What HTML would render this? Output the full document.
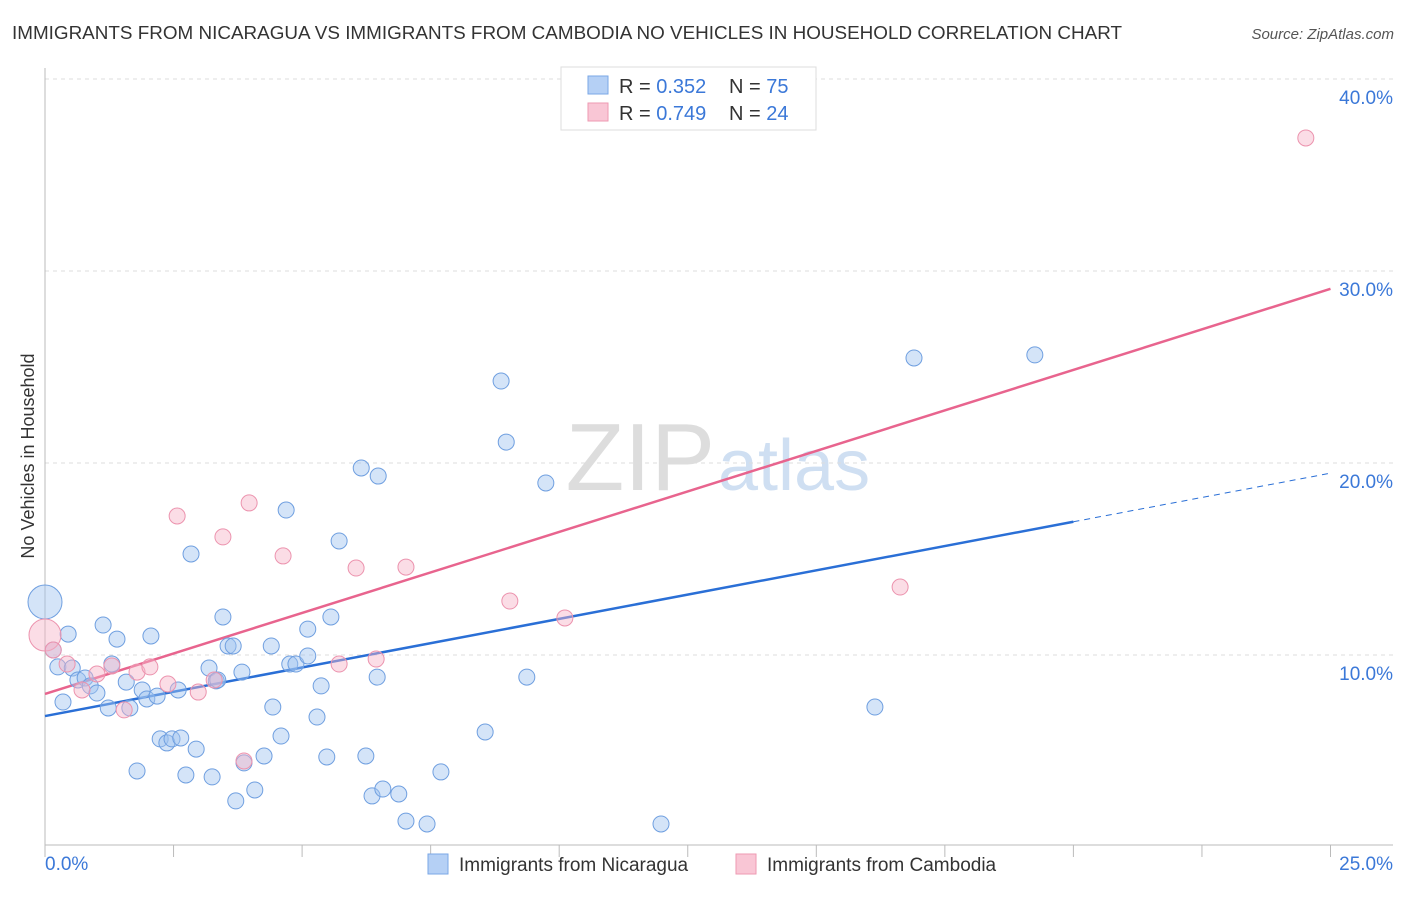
<!DOCTYPE html>
<html><head><meta charset="utf-8"><style>
body{margin:0;background:#fff;font-family:"Liberation Sans",sans-serif}
svg text{font-family:"Liberation Sans",sans-serif}
</style></head><body>
<svg id="chart" width="1406" height="892" xmlns="http://www.w3.org/2000/svg">
<text x="12" y="39" font-size="18" fill="#333" textLength="1110" lengthAdjust="spacingAndGlyphs">IMMIGRANTS FROM NICARAGUA VS IMMIGRANTS FROM CAMBODIA NO VEHICLES IN HOUSEHOLD CORRELATION CHART</text>
<text x="1394" y="39" font-size="15" fill="#555" font-style="italic" text-anchor="end">Source: ZipAtlas.com</text>
<text x="715" y="490" font-size="96" fill="#ddd" text-anchor="end" font-family="Liberation Serif">ZIP</text>
<text x="718" y="490" font-size="72" fill="#cfdff2">atlas</text>
<g id="grid"></g><g id="axes"></g><g id="trends"></g><g id="points"></g>
<text transform="translate(34,456) rotate(-90)" font-size="18" fill="#333" text-anchor="middle">No Vehicles in Household</text>
<g>
<rect x="561" y="67" width="255" height="63" fill="#fff" stroke="#ddd"/>
<rect x="588" y="76" width="20" height="18" fill="#b5d0f5" stroke="#7aa7e6"/>
<text x="619" y="93" font-size="20" fill="#333">R = <tspan fill="#3b78d8">0.352</tspan></text>
<text x="729" y="93" font-size="20" fill="#333">N = <tspan fill="#3b78d8">75</tspan></text>
<rect x="588" y="103" width="20" height="18" fill="#f9c6d5" stroke="#ee9ab2"/>
<text x="619" y="120" font-size="20" fill="#333">R = <tspan fill="#3b78d8">0.749</tspan></text>
<text x="729" y="120" font-size="20" fill="#333">N = <tspan fill="#3b78d8">24</tspan></text>
</g>
<g>
<rect x="428" y="854" width="20" height="20" fill="#b5d0f5" stroke="#7aa7e6"/>
<text x="459" y="871" font-size="19" fill="#333">Immigrants from Nicaragua</text>
<rect x="736" y="854" width="20" height="20" fill="#f9c6d5" stroke="#ee9ab2"/>
<text x="767" y="871" font-size="19" fill="#333">Immigrants from Cambodia</text>
</g>
</svg>
<script>
const yTicks=[10,20,30,40];
const xTickLabels=["0.0%","25.0%"];
const blueX=[0,0.16,0.25,0.45,0.35,0.53,0.64,0.78,0.88,1.01,1.13,1.23,1.30,1.40,1.58,1.65,1.79,1.89,1.98,2.06,2.18,2.24,2.37,2.47,2.59,2.64,2.74,2.84,2.94,3.19,3.25,3.33,3.36,3.46,3.56,3.66,3.71,3.83,3.87,4.08,4.26,4.40,4.43,4.59,4.69,4.76,4.88,5.11,5.11,5.29,5.37,5.48,5.56,5.72,6.15,6.24,6.36,6.46,6.48,6.57,6.88,7.02,7.43,7.70,8.56,8.87,8.97,9.37,9.74,11.98,16.14,16.90,19.25];
const blueY=[12.76,10.26,9.38,11.09,7.55,9.32,8.70,8.80,8.39,8.02,11.56,7.24,9.53,10.83,8.59,7.24,3.96,8.18,7.71,10.99,7.86,5.63,5.42,5.63,8.18,5.68,3.75,15.26,5.10,9.32,3.65,8.65,8.70,11.98,10.47,10.47,2.40,9.11,4.38,2.97,4.74,10.47,7.29,5.78,17.55,9.53,9.53,11.35,9.95,6.77,8.39,4.69,11.98,15.94,19.74,4.74,2.66,8.85,19.32,3.02,2.76,1.35,1.20,3.91,5.99,24.27,21.09,8.85,18.96,1.20,7.29,25.47,25.63];
const pinkX=[0,0.16,0.43,0.72,1.01,1.30,1.54,1.79,2.04,2.39,2.57,2.98,3.29,3.46,3.87,3.97,4.63,5.72,6.05,6.44,7.02,9.04,10.11,16.63,24.52];
const pinkY=[11.04,10.26,9.53,8.18,9.01,9.43,7.14,9.11,9.38,8.49,17.24,8.07,8.70,16.15,4.48,17.92,15.16,9.53,14.53,9.79,14.58,12.81,11.93,13.54,36.93];
const blueTrend=[6.82,0.506];
const pinkTrend=[7.97,0.844];
const NS="http://www.w3.org/2000/svg";
const X=v=>45+v*51.42, Y=v=>847-v*19.2;
function mk(tag,attrs,parent){const e=document.createElementNS(NS,tag);for(const k in attrs)e.setAttribute(k,attrs[k]);document.getElementById(parent).appendChild(e);return e;}
yTicks.forEach(t=>{
 const l=mk('line',{x1:45,x2:1393,y1:Y(t),y2:Y(t),stroke:'#ddd','stroke-dasharray':'4,4'},'grid');
 
 
 const tx=mk('text',{x:1393,y:Y(t)+25,'font-size':19,fill:'#3b78d8','text-anchor':'end'},'grid');
 tx.textContent=t.toFixed(1)+'%';
 
 
});
const ax=mk('line',{x1:45,x2:1393,y1:845,y2:845,stroke:'#bbb'},'axes');


const ay=mk('line',{x1:45,x2:45,y1:68,y2:845,stroke:'#bbb'},'axes');


for(let i=0;i<=10;i++){const t=mk('line',{x1:X(i*2.5),x2:X(i*2.5),y1:845,y2:857,stroke:'#bbb'},'axes');
 
 }
[[0,'start',45],[25,'end',1393]].forEach((d,i)=>{const t=mk('text',{x:d[2],y:870,'font-size':19,fill:'#3b78d8','text-anchor':d[1]},'axes');t.textContent=xTickLabels[i];
 
 });
const bl=mk('line',{x1:X(0),y1:Y(blueTrend[0]),x2:X(20),y2:Y(blueTrend[0]+blueTrend[1]*20),stroke:'#2a6fd6','stroke-width':2.5},'trends');


const bd=mk('line',{x1:X(20),y1:Y(blueTrend[0]+blueTrend[1]*20),x2:X(25),y2:Y(blueTrend[0]+blueTrend[1]*25),stroke:'#2a6fd6','stroke-width':1,'stroke-dasharray':'6,5'},'trends');


const pl=mk('line',{x1:X(0),y1:Y(pinkTrend[0]),x2:X(25),y2:Y(pinkTrend[0]+pinkTrend[1]*25),stroke:'#e8648e','stroke-width':2.5},'trends');


blueX.forEach((x,i)=>{const c=mk('circle',{cx:X(x),cy:Y(blueY[i]),r:i==0?17:8,fill:'rgba(160,195,240,0.45)',stroke:'#6f9fe0','stroke-width':1},'points');
 
 });
pinkX.forEach((x,i)=>{const c=mk('circle',{cx:X(x),cy:Y(pinkY[i]),r:i==0?16:8,fill:'rgba(247,180,200,0.45)',stroke:'#ec93ae','stroke-width':1},'points');
 
 });
</script>
</body></html>
